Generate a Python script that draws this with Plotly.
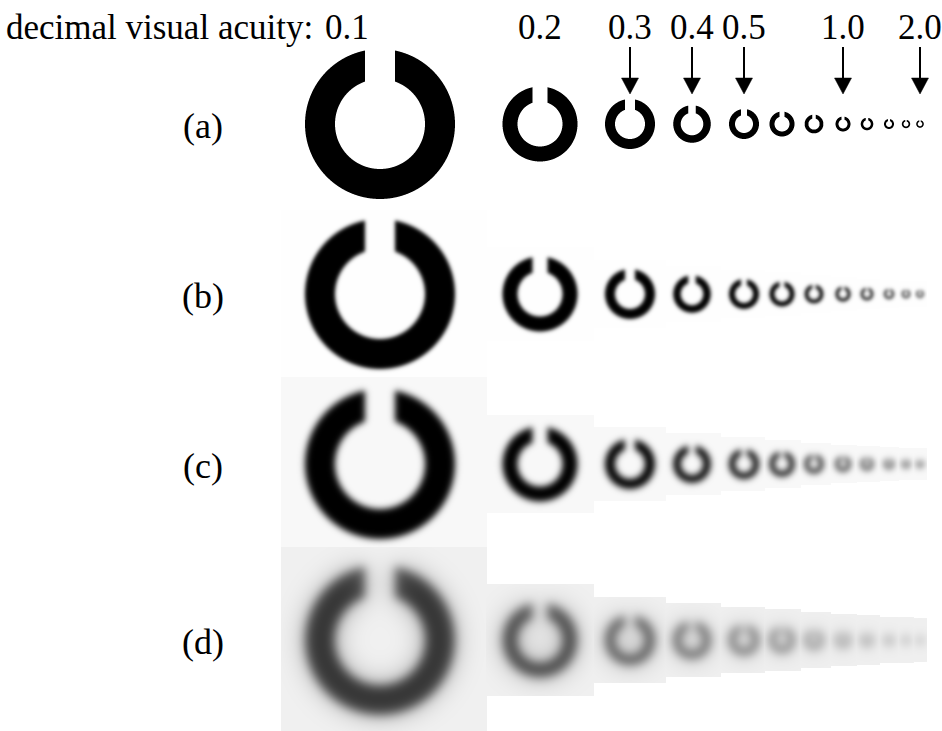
import numpy as np
import plotly.graph_objects as go

# Landolt rings, one per decimal visual acuity value
acuity = [0.1, 0.2, 0.3, 0.4, 0.5, 0.6, 0.8, 1.0, 1.2, 1.5, 1.8, 2.0]
labelled = ["0.1", "0.2", "0.3", "0.4", "0.5", "1.0", "2.0"]
arrowed = ["0.3", "0.4", "0.5", "1.0", "2.0"]
row_names = ["(a)", "(b)", "(c)", "(d)"]
# blur per row as (weight, sigma px) Gaussian components
blur_parts = [[], [(1.0, 1.9)], [(1.0, 3.3)], [(0.6, 5.0), (0.4, 13.0)]]
ink_depth = [1.0, 1.0, 1.0, 0.85]       # contrast of the ring ink per row
tile_gray = [255, 254, 248, 240]        # background of each ring tile per row

# layout (pixels)
W, H = 942, 731
BASE_D = 15.0                            # ring diameter at acuity 1.0
ring_x = [380, 540, 630, 692, 744, 782, 814, 843, 867, 889, 906, 920]
row_y = [124, 294, 464, 640]
label_x_first = 347
FONT = "Liberation Serif"


def landolt_coverage(xs, ys, d):
    """Anti-aliased coverage of a Landolt C (gap at the top) of outer diameter d."""
    ss = 4
    off = (np.arange(ss) + 0.5) / ss - 0.5
    gx = (xs[None, :, None, None] + off[None, None, None, :])
    gy = (ys[:, None, None, None] + off[None, None, :, None])
    r = np.sqrt(gx ** 2 + gy ** 2)
    ring = (r <= d / 2) & (r >= 0.3 * d)
    gap = (np.abs(gx) < d / 10) & (gy < 0)
    cov = (ring & ~gap).mean(axis=(2, 3))
    return cov


def gaussian_blur(img, sigma):
    rad = int(np.ceil(3 * sigma))
    t = np.arange(-rad, rad + 1)
    k = np.exp(-t ** 2 / (2 * sigma ** 2))
    k /= k.sum()
    pad = np.pad(img, rad)
    tmp = np.apply_along_axis(lambda v: np.convolve(v, k, mode="valid"), 1, pad)
    out = np.apply_along_axis(lambda v: np.convolve(v, k, mode="valid"), 0, tmp)
    return out


def blur(img, parts):
    if not parts:
        return img
    return sum(w * gaussian_blur(img, s) for w, s in parts)


diam = [BASE_D / a for a in acuity]
n = len(acuity)
# tile boundaries between neighbouring rings
bounds = []
for i in range(n - 1):
    r0, r1 = diam[i] / 2, diam[i + 1] / 2
    bounds.append(ring_x[i] + (ring_x[i + 1] - ring_x[i]) * r0 / (r0 + r1))
left_edges = [ring_x[0] - 0.92 * (bounds[0] - ring_x[0])] + bounds
right_edges = bounds + [ring_x[-1] + (ring_x[-1] - bounds[-1])]

fig = go.Figure()
gray = [[0, "#000000"], [1, "#ffffff"]]

for row in range(4):
    parts = blur_parts[row]
    sig = max([s for _, s in parts], default=0.0)
    cy = row_y[row]
    for i in range(n):
        d = diam[i]
        cx = ring_x[i]
        x0 = int(np.floor(left_edges[i]))
        x1 = int(np.ceil(right_edges[i]))
        if row >= 2:
            half_h = d / 2 + min(1.6 * sig, 12) + 6
        else:
            half_h = d / 2 + 3 * sig + 3
        y0 = int(np.floor(cy - half_h))
        y1 = int(np.ceil(cy + half_h))
        # render on a padded canvas so the blur sees ink beyond the tile edge
        pad = int(np.ceil(3 * sig)) if sig > 0 else 0
        xs = np.arange(x0 - pad, x1 + pad) + 0.5 - cx
        ys = np.arange(y0 - pad, y1 + pad) + 0.5 - cy
        cov = blur(landolt_coverage(xs, ys, d), parts)
        if pad:
            cov = cov[pad:-pad, pad:-pad]
        val = tile_gray[row] * (1 - ink_depth[row] * cov)
        z = np.clip(np.round(val), 0, 255).tolist()
        fig.add_trace(go.Heatmap(
            z=z, x0=x0 + 0.5, dx=1, y0=y0 + 0.5, dy=1,
            colorscale=gray, zmin=0, zmax=255, showscale=False,
            zsmooth=False, hoverinfo="skip",
        ))

annotations = []
annotations.append(dict(x=4, y=27, text="decimal visual acuity:", xanchor="left",
                        yanchor="middle", showarrow=False,
                        font=dict(family=FONT, size=35, color="black")))
for lab in labelled:
    idx = [f"{a:.1f}" for a in acuity].index(lab)
    lx = label_x_first if idx == 0 else ring_x[idx]
    annotations.append(dict(x=lx, y=27, text=lab, xanchor="center", yanchor="middle",
                            showarrow=False, font=dict(family=FONT, size=35, color="black")))
for r, name in enumerate(row_names):
    annotations.append(dict(x=203, y=row_y[r] + 2, text=name, xanchor="center",
                            yanchor="middle", showarrow=False,
                            font=dict(family=FONT, size=36, color="black")))

shapes = []
for lab in arrowed:
    idx = [f"{a:.1f}" for a in acuity].index(lab)
    ax = ring_x[idx]
    shapes.append(dict(type="line", x0=ax, x1=ax, y0=47, y1=82,
                       line=dict(color="black", width=2), layer="above"))
    shapes.append(dict(type="path",
                       path=f"M {ax-8.5},78 L {ax+8.5},78 L {ax},94 Z",
                       fillcolor="black", line=dict(color="black", width=0.5),
                       layer="above"))

fig.update_layout(
    width=W, height=H, margin=dict(l=0, r=0, t=0, b=0),
    paper_bgcolor="white", plot_bgcolor="white",
    xaxis=dict(range=[0, W], visible=False, fixedrange=True),
    yaxis=dict(range=[H, 0], visible=False, fixedrange=True),
    annotations=annotations, shapes=shapes, showlegend=False,
)
fig.write_html("out.html")
